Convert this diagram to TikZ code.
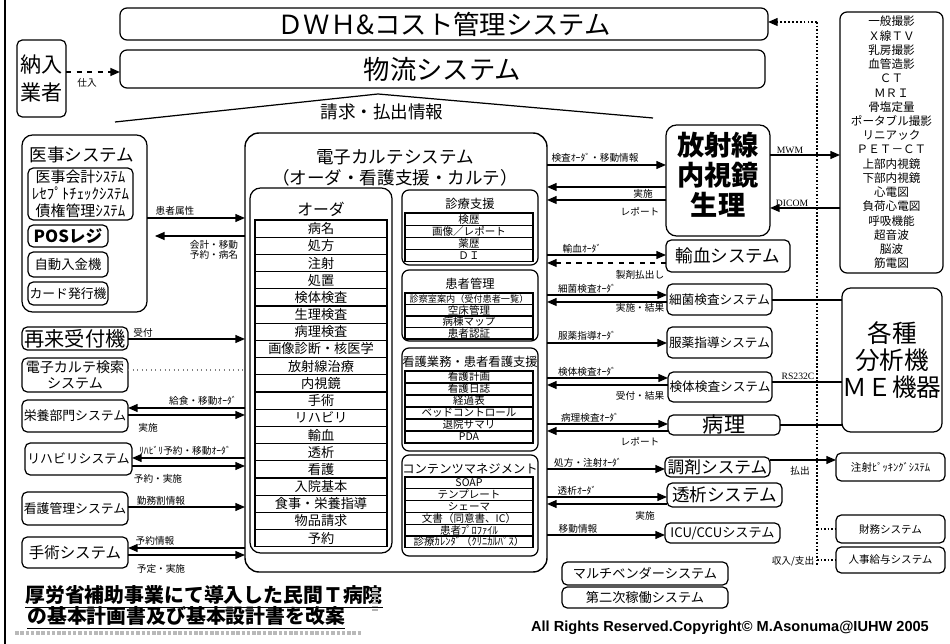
\documentclass[tikz,border=0pt]{standalone}
\usepackage{fontspec}
\setmainfont{Noto Sans CJK JP}
\newfontfamily\latsans{Liberation Sans}
\newfontfamily\latserif{Liberation Serif}
\usetikzlibrary{arrows.meta}
\newcommand\fsz[1]{\fontsize{#1}{#1}\selectfont}
\newcommand\bx[7][box]{%
  \pgfmathsetmacro\bxw{(#4-#2)*0.02}%
  \pgfmathsetmacro\bxh{(#5-#3)*0.02}%
  \node[#1,minimum width=\bxw cm,minimum height=\bxh cm] (#6) at ({(#2+#4)/2},{(#3+#5)/2}) {#7};}
\begin{document}
\begin{tikzpicture}[x=0.02cm,y=-0.02cm,
  box/.style={draw,line width=0.7pt,rounded corners=3pt,inner sep=0pt,outer sep=0pt,align=center},
  sq/.style={draw,line width=0.6pt,inner sep=0pt,outer sep=0pt,align=center},
  lbl/.style={inner sep=0pt,font=\fsz{5.5}},
  arr/.style={-{Triangle[length=5.5pt,width=4.5pt]},line width=0.8pt},
  dotl/.style={line width=1.4pt,dash pattern=on 1pt off 1pt},
  orow/.style={sq,minimum width=2.64cm,minimum height=0.344cm,font=\fsz{7.5}},
  srow/.style={sq,minimum width=2.56cm,minimum height=0.24cm,font=\fsz{6}}]

\useasboundingbox (0,0) rectangle (950,644);
\fill[white] (0,0) rectangle (950,644);
\draw[line width=1.3pt] (5,0) -- (5,644);

% ---------- top ----------
\bx[box,font=\fsz{15},rounded corners=4pt]{120}{8}{768}{40}{dwh}{ＤＷＨ\&コスト管理システム}
\bx[box,font=\fsz{15},rounded corners=4pt]{120}{50}{765}{88}{butsuryu}{物流システム}
\bx[box,font=\fontsize{12}{15.5}\selectfont]{17}{40}{66}{117}{nonyu}{納入\\業者}
\draw[arr,dashed,line width=1pt] (nonyu.east |- 0,72) -- (butsuryu.west |- 0,72);
\node[lbl] (lshiire) at (87,83) {仕入};
\draw[line width=0.7pt] (115,122) -- (378,94) -- (653,118);
\node[font=\fsz{10}] (seikyu) at (382,112) {請求・払出情報};

% ---------- EMR ----------
\bx[box,rounded corners=8pt,line width=0.8pt]{245}{133}{547}{572}{emr}{}
\node[font=\fsz{10}] (emrt1) at (395,157) {電子カルテシステム};
\node[font=\fsz{10}] (emrt2) at (395,178) {（オーダ・看護支援・カルテ）};

\bx[box,rounded corners=6pt]{250}{188}{392}{553}{order}{}
\node[font=\fsz{9}] (ordt) at (321,209) {オーダ};
\foreach \t [count=\i] in {病名,処方,注射,処置,検体検査,生理検査,病理検査,画像診断・核医学,放射線治療,内視鏡,手術,リハビリ,輸血,透析,看護,入院基本,食事・栄養指導,物品請求,予約}
  \node[orow] (ord\i) at (321,{220+17.2*(\i-0.5)}) {\t};

\bx[box,rounded corners=4pt]{402}{190}{538}{265}{shinryo}{}
\node[font=\fsz{7}] (shinryot) at (470,204) {診療支援};
\foreach \t [count=\i] in {検歴,画像／レポート,薬歴,ＤＩ}
  \node[srow,minimum height=0.244cm] (sr\i) at (469,{213+12.2*(\i-0.5)}) {\t};

\bx[box,rounded corners=4pt]{402}{270}{538}{341}{kanja}{}
\node[font=\fsz{7}] (kanjat) at (470,284) {患者管理};
\foreach \t [count=\i] in {{\fsz{5.2}診察室案内（受付患者一覧）},空床管理,病棟マップ,患者認証}
  \node[srow,minimum height=0.23cm] (kr\i) at (469,{293+11.5*(\i-0.5)}) {\t};

\bx[box,rounded corners=4pt]{402}{348}{538}{451}{kango2}{}
\node[font=\fsz{7}] (kango2t) at (470,362) {看護業務・患者看護支援};
\foreach \t [count=\i] in {看護計画,看護日誌,経過表,ベッドコントロール,退院サマリ,PDA}
  \node[srow] (nr\i) at (469,{371+12*(\i-0.5)}) {\t};

\bx[box,rounded corners=4pt]{402}{455}{538}{556}{contents}{}
\node[font=\fsz{7}] (contentst) at (470,469) {コンテンツマネジメント};
\foreach \t [count=\i] in {SOAP,テンプレート,シェーマ,文書（同意書、IC）,患者ﾌﾟﾛﾌｧｲﾙ,診療ｶﾚﾝﾀﾞ（ｸﾘﾆｶﾙﾊﾟｽ）}
  \node[srow,minimum height=0.236cm] (cr\i) at (469,{477+11.8*(\i-0.5)}) {\t};

% ---------- left ----------
\bx[box,rounded corners=6pt]{22}{135}{147}{312}{med}{}
\node[font=\fsz{10}] (medt) at (82,155) {医事システム};
\bx[box,rounded corners=3pt,font=\fontsize{8.5}{9.7}\selectfont]{28}{168}{133}{220}{medsub}{医事会計ｼｽﾃﾑ\\ﾚｾﾌﾟﾄﾁｪｯｸｼｽﾃﾑ\\債権管理ｼｽﾃﾑ}
\bx[box,font=\fsz{9.5}\bfseries]{28}{225}{108}{247}{pos}{POSレジ}
\bx[box,font=\fsz{7.6}]{28}{252}{108}{277}{nyukin}{自動入金機}
\bx[box,font=\fsz{7.3}]{28}{282}{108}{305}{card}{カード発行機}
\bx[box,font=\fsz{11.5}]{22}{327}{128}{350}{saisai}{再来受付機}
\bx[box,font=\fontsize{8}{9.5}\selectfont]{22}{358}{128}{392}{kensaku}{電子カルテ検索\\システム}
\bx[box,font=\fsz{7.3}]{22}{400}{128}{432}{eiyo}{栄養部門システム}
\bx[box,font=\fsz{7.3}]{25}{443}{132}{475}{reha}{リハビリシステム}
\bx[box,font=\fsz{7.3}]{22}{492}{128}{525}{kango}{看護管理システム}
\bx[box,font=\fsz{8.8}]{22}{537}{128}{568}{shujutsu}{手術システム}

\draw[arr] (med.east |- 0,218) -- (emr.west |- 0,218);
\draw[arr,shorten >=4.5pt] (emr.west |- 0,236) -- (med.east |- 0,236);
\draw[arr] (saisai.east |- 0,339) -- (emr.west |- 0,339);
\draw[dotted,gray,line width=0.6pt] (kensaku.east |- 0,370) -- (emr.west |- 0,370);
\draw[arr] (emr.west |- 0,408) -- (eiyo.east |- 0,408);
\draw[arr] (eiyo.east |- 0,415) -- (emr.west |- 0,415);
\draw[arr] (emr.west |- 0,458) -- (reha.east |- 0,458);
\draw[arr] (reha.east |- 0,466) -- (emr.west |- 0,466);
\draw[arr] (kango.east |- 0,507) -- (emr.west |- 0,507);
\draw[arr] (emr.west |- 0,548) -- (shujutsu.east |- 0,548);
\draw[arr] (shujutsu.east |- 0,555) -- (emr.west |- 0,555);

\node[lbl] (lzokusei) at (175,211) {患者属性};
\node[lbl,align=left] (lkaikei) at (214,250) {会計・移動\\予約・病名};
\node[lbl] (luke) at (143,333) {受付};
\node[lbl] (lkyu) at (203,401) {給食・移動ｵｰﾀﾞ};
\node[lbl] (ljis1) at (148,428) {実施};
\node[lbl] (lreha) at (185,451) {ﾘﾊﾋﾞﾘ予約・移動ｵｰﾀﾞ};
\node[lbl] (lyj) at (158,479) {予約・実施};
\node[lbl] (lkinmu) at (161,501) {勤務割情報};
\node[lbl] (lyoyaku) at (155,541) {予約情報};
\node[lbl] (lyotei) at (161,569) {予定・実施};

% ---------- right systems ----------
\bx[box,rounded corners=6pt]{666}{125}{770}{236}{rad}{}
\node[font=\fontsize{15.5}{17}\selectfont\bfseries,align=center] (radt) at (718,175) {放射線\\内視鏡\\生理};
\bx[box,font=\fsz{10}]{666}{240}{790}{272}{yuketsu}{輸血システム}
\bx[box,font=\fsz{7.2}]{667}{284}{772}{315}{saikin}{細菌検査システム}
\bx[box,font=\fsz{7.2}]{667}{327}{772}{358}{fukuyaku}{服薬指導システム}
\bx[box,font=\fsz{7.2}]{668}{372}{772}{402}{kentai}{検体検査システム}
\bx[box,font=\fsz{12}]{668}{415}{780}{435}{byori}{病理}
\bx[box,font=\fsz{9.5}]{665}{457}{770}{477}{chozai}{調剤システム}
\bx[box,font=\fsz{10}]{667}{483}{782}{507}{toseki}{透析システム}
\bx[box,font=\fsz{7.5}]{665}{523}{780}{543}{icu}{ICU/CCUシステム}

\draw[arr] (emr.east |- 0,165) -- (rad.west |- 0,165);
\draw[arr] (rad.west |- 0,187) -- (emr.east |- 0,187);
\draw[arr] (rad.west |- 0,200) -- (emr.east |- 0,200);
\draw[arr] (emr.east |- 0,255) -- (yuketsu.west |- 0,255);
\draw[arr,dashed] (yuketsu.west |- 0,263) -- (emr.east |- 0,263);
\draw[arr] (emr.east |- 0,295) -- (saikin.west |- 0,295);
\draw[arr] (saikin.west |- 0,302) -- (emr.east |- 0,302);
\draw[arr] (emr.east |- 0,343) -- (fukuyaku.west |- 0,343);
\draw[arr] (emr.east |- 0,378) -- (kentai.west |- 0,378);
\draw[arr] (kentai.west |- 0,385) -- (emr.east |- 0,385);
\draw[arr] (emr.east |- 0,424) -- (byori.west |- 0,424);
\draw[arr] (byori.west |- 0,431) -- (emr.east |- 0,431);
\draw[arr] (emr.east |- 0,469) -- (chozai.west |- 0,469);
\draw[arr] (emr.east |- 0,497) -- (toseki.west |- 0,497);
\draw[arr] (toseki.west |- 0,504) -- (emr.east |- 0,504);
\draw[arr] (emr.east |- 0,535) -- (icu.west |- 0,535);

\node[lbl] (r1) at (595,158) {検査ｵｰﾀﾞ・移動情報};
\node[lbl] (r2) at (643,194) {実施};
\node[lbl] (r3) at (640,212) {レポート};
\node[lbl] (r4) at (582,249) {輸血ｵｰﾀﾞ};
\node[lbl] (r5) at (640,275) {製剤払出し};
\node[lbl] (r6) at (587,289) {細菌検査ｵｰﾀﾞ};
\node[lbl] (r7) at (640,308) {実施・結果};
\node[lbl] (r8) at (587,336) {服薬指導ｵｰﾀﾞ};
\node[lbl] (r9) at (587,372) {検体検査ｵｰﾀﾞ};
\node[lbl] (r10) at (640,396) {受付・結果};
\node[lbl] (r11) at (590,418) {病理検査ｵｰﾀﾞ};
\node[lbl] (r12) at (640,442) {レポート};
\node[lbl] (r13) at (588,463) {処方・注射ｵｰﾀﾞ};
\node[lbl] (r14) at (577,491) {透析ｵｰﾀﾞ};
\node[lbl] (r15) at (645,516) {実施};
\node[lbl] (r16) at (578,529) {移動情報};

% ---------- far right ----------
\bx[box,font=\fontsize{6.6}{8.1}\selectfont,rounded corners=4pt]{840}{12}{943}{273}{modal}{一般撮影\\Ｘ線ＴＶ\\乳房撮影\\血管造影\\ＣＴ\\ＭＲＩ\\骨塩定量\\ポータブル撮影\\リニアック\\ＰＥＴ－ＣＴ\\上部内視鏡\\下部内視鏡\\心電図\\負荷心電図\\呼吸機能\\超音波\\脳波\\筋電図}
\bx[box,font=\fontsize{14}{15.2}\selectfont,rounded corners=5pt]{842}{288}{942}{432}{bunseki}{各種\\分析機\\ＭＥ機器}
\bx[box,font=\fsz{6}]{836}{453}{945}{481}{picking}{注射ﾋﾟｯｷﾝｸﾞｼｽﾃﾑ}
\bx[box,font=\fsz{6}]{836}{515}{945}{543}{zaimu}{財務システム}
\bx[box,font=\fsz{6}]{836}{547}{945}{573}{jinji}{人事給与システム}

\draw[arr] (rad.east |- 0,155) -- (modal.west |- 0,155);
\draw[arr] (modal.west |- 0,208) -- (rad.east |- 0,208);
\draw[line width=0.6pt] (saikin.east |- 0,300) -- (bunseki.west |- 0,300);
\draw[line width=0.6pt] (kentai.east |- 0,382) -- (bunseki.west |- 0,382);
\draw[line width=0.6pt] (byori.east |- 0,425) -- (bunseki.west |- 0,425);
\draw[arr] (chozai.east |- 0,460) -- (picking.west |- 0,460);

\coordinate (dtop) at (817,22);
\coordinate (dbot) at (817,565);
\draw[dotl] (dtop) -- (dbot);
\draw[arr,dash pattern=on 1pt off 1.2pt] (dtop) -- (dwh.east |- dtop);
\draw[dotl,line width=1pt] (dtop |- 0,529) -- (zaimu.west |- 0,529);
\draw[dotl,line width=1pt] (dtop |- 0,560) -- (jinji.west |- 0,560);

\node[lbl,font=\latserif\fsz{5.5}] (r19) at (790,150) {MWM};
\node[lbl,font=\latserif\fsz{5.5}] (r20) at (792,203) {DICOM};
\node[lbl,font=\latserif\fsz{5.5}] (r21) at (798,376) {RS232C};
\node[lbl] (r17) at (800,471) {払出};
\node[lbl] (r18) at (793,561) {収入/支出};

% ---------- bottom ----------
\bx[box,font=\fsz{7.5}]{562}{562}{728}{585}{multi}{マルチベンダーシステム}
\bx[box,font=\fsz{7.5}]{562}{587}{728}{608}{daini}{第二次稼働システム}

\node[anchor=west,inner sep=0pt,font=\fsz{11.3}\bfseries] (t1) at (25,597) {\underline{厚労省補助事業にて導入した民間Ｔ病院}};
\node[anchor=west,inner sep=0pt,font=\fsz{11.3}\bfseries] (t2) at (27,618) {\underline{の基本計画書及び基本設計書を改案}};
\draw[gray!55,line width=2.5pt,dash pattern=on 2pt off 1pt] (15,633) -- (362,633);
\draw[gray!60,line width=3pt,dash pattern=on 1pt off 1pt] (375,588) -- (375,612);
\node[inner sep=0pt,font=\latsans\bfseries\fsz{8.3}] (copy) at (730,628) {All Rights Reserved.Copyright© M.Asonuma@IUHW 2005};
\end{tikzpicture}
\end{document}
